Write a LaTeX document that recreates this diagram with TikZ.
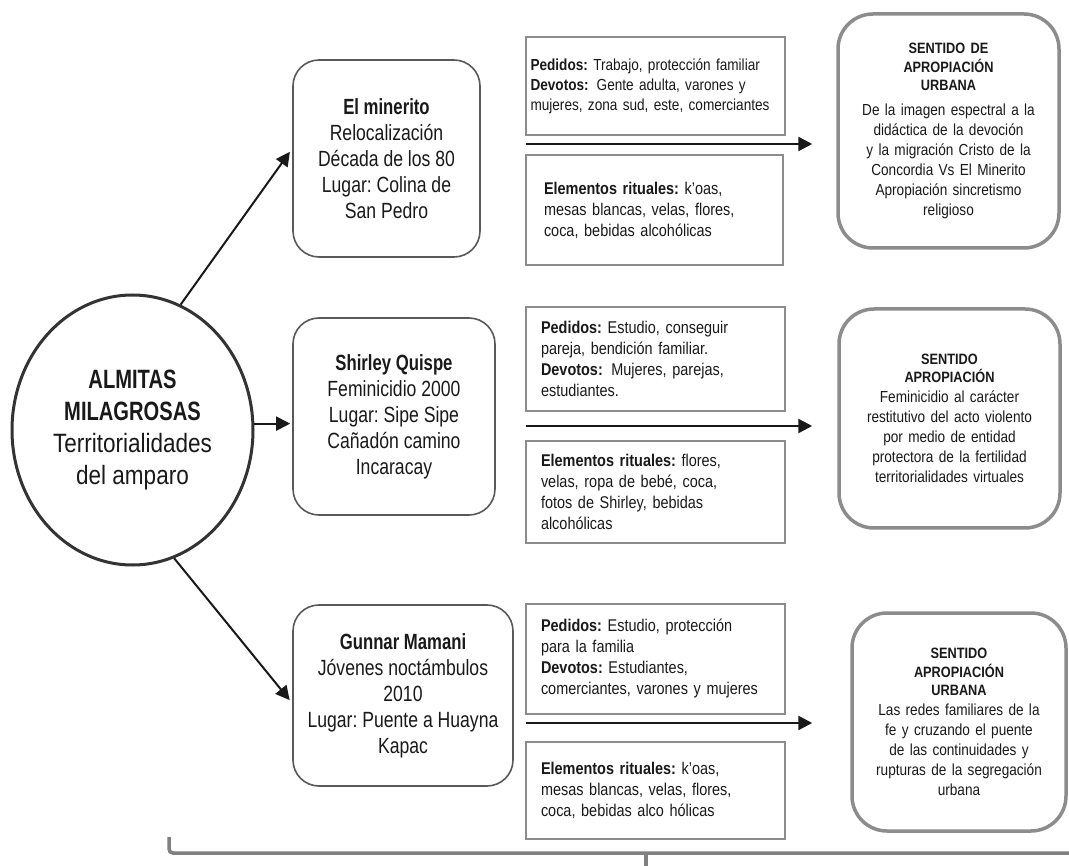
\documentclass[tikz,border=0pt]{standalone}
\usepackage{fontspec}
\setmainfont{Liberation Sans}[FakeStretch=0.85]
\newfontfamily\estrecha{Liberation Sans}[FakeStretch=0.8]
\newfontfamily\negra{Liberation Sans}[FakeStretch=0.76]
\usetikzlibrary{arrows.meta,shapes.geometric,calc}
\tikzset{
  caso/.style={draw=black!65, line width=1.6pt, rounded corners=26pt, align=center, text=black!90, font=\estrecha\fontsize{22}{26}\selectfont, inner sep=0pt},
  lista/.style={draw=black!45, line width=1.6pt, align=left, text=black!90, font=\fontsize{17}{21}\selectfont, inner ysep=0pt},
  sentido/.style={draw=black!45, line width=3.5pt, rounded corners=35pt, align=center, text=black!90, font=\fontsize{16}{20}\selectfont, inner sep=0pt, text width=200pt},
  flecha/.style={line width=2.4pt, draw=black!90, -{Triangle[length=14pt,width=14pt]}},
}
\newcommand{\titulo}[2][0pt]{{\fontsize{15}{18.5}\selectfont\bfseries #2\par}\vspace{#1}}
\newcommand{\nombre}[1]{{\negra\bfseries #1}}

\begin{document}
\frenchspacing
\begin{tikzpicture}[x=1pt, y=-1pt]
			%%%%% START %%%%%
			\useasboundingbox (0,0) rectangle (1069,866);
			
			\node[ellipse, draw=black!80, line width=3pt, minimum width=241pt, minimum height=270pt, align=center, text=black!90, font=\fontsize{26.5}{32}\selectfont, inner sep=0pt] (alma) at (132.5,430) {\nombre{ALMITAS}\\ \nombre{MILAGROSAS}\\ Territorialidades\\ del amparo};
			
			\node[caso, minimum width=187pt, minimum height=197pt] (min) at (386.5,158.5) {\nombre{El minerito}\\ Relocalización\\ Década de los 80\\ Lugar: Colina de\\ San Pedro};
			\node[caso, minimum width=202pt, minimum height=197pt] (shir) at (394,416.5) {\nombre{Shirley Quispe}\\ Feminicidio 2000\\ Lugar: Sipe Sipe\\ Cañadón camino\\ Incaracay};
			\node[caso, minimum width=220pt, minimum height=181pt] (gun) at (403,695.5) {\nombre{Gunnar Mamani}\\ Jóvenes noctámbulos\\ 2010\\ Lugar: Puente a Huayna\\ Kapac};
			
			\draw[flecha, line width=2pt, shorten >=4pt] (alma.69.5) -- (min.174);
			\draw[flecha, line width=2pt, shorten >=2pt] (alma.3) -- (alma.3 -| shir.west);
			\draw[flecha, line width=2pt, shorten >=4pt] (alma.-72) -- (gun.184);
			
			\node[lista, minimum width=259pt, minimum height=98pt, inner xsep=4.5pt, text width=250pt, font=\fontsize{16}{20}\selectfont] (ped1) at (655.5,86) {\textbf{Pedidos:} Trabajo, protección familiar\\ \textbf{Devotos:}\, Gente adulta, varones y\\ mujeres, zona sud, este, comerciantes};
			\node[lista, minimum width=257pt, minimum height=110pt, inner xsep=18pt, text width=221pt] (ele1) at (654.5,210) {\textbf{Elementos rituales:} k’oas,\\ mesas blancas, velas, flores,\\ coca, bebidas alcohólicas};
			
			\node[lista, minimum width=259pt, minimum height=104pt, inner xsep=15pt, text width=229pt] (ped2) at (655.5,359) {\textbf{Pedidos:} Estudio, conseguir\\ pareja, bendición familiar.\\ \textbf{Devotos:}\, Mujeres, parejas,\\ estudiantes.};
			\node[lista, minimum width=259pt, minimum height=102pt, inner xsep=15pt, text width=229pt] (ele2) at (655.5,492) {\textbf{Elementos rituales:} flores,\\ velas, ropa de bebé, coca,\\ fotos de Shirley, bebidas\\ alcohólicas};
			
			\node[lista, minimum width=259pt, minimum height=110pt, inner xsep=15pt, text width=229pt] (ped3) at (655.5,659) {\textbf{Pedidos:} Estudio, protección\\ para la familia\\ \textbf{Devotos:} Estudiantes,\\ comerciantes, varones y mujeres};
			\node[lista, minimum width=259pt, minimum height=97pt, inner xsep=15pt, text width=229pt] (ele3) at (655.5,790.5) {\textbf{Elementos rituales:} k’oas,\\ mesas blancas, velas, flores,\\ coca, bebidas alco hólicas};
			
			\node[sentido, minimum width=221pt, minimum height=234pt] (sen1) at (948.5,131) {\titulo[5pt]{SENTIDO DE\\ APROPIACIÓN\\ URBANA}De la imagen espectral a la\\ didáctica de la devoción\\ y la migración Cristo de la\\ Concordia Vs El Minerito\\ Apropiación sincretismo\\ religioso};
			\node[sentido, minimum width=221pt, minimum height=219pt] (sen2) at (949.5,418.5) {\titulo{SENTIDO\\ APROPIACIÓN}Feminicidio al carácter\\ restitutivo del acto violento\\ por medio de entidad\\ protectora de la fertilidad\\ territorialidades virtuales};
			\node[sentido, minimum width=214pt, minimum height=218pt] (sen3) at (959,722) {\titulo{SENTIDO\\ APROPIACIÓN\\ URBANA}Las redes familiares de la\\ fe y cruzando el puente\\ de las continuidades y\\ rupturas de la segregación\\ urbana};
			
			\coordinate (a1) at (526,144);
			\coordinate (a2) at (526,426);
			\coordinate (a3) at (526,723);
			\draw[flecha, shorten >=24pt] (a1) -- (a1 -| sen1.west);
			\draw[flecha, shorten >=25pt] (a2) -- (a2 -| sen2.west);
			\draw[flecha, shorten >=38pt] (a3) -- (a3 -| sen3.west);
			
			\draw[line width=3.5pt, color=black!50, rounded corners=4pt] (169,837) -- (169,853) -- (1080,853);
			\draw[line width=3.5pt, color=black!50] (646,853) -- (646,870);
			%%%%% END %%%%%
\end{tikzpicture}
\end{document}
